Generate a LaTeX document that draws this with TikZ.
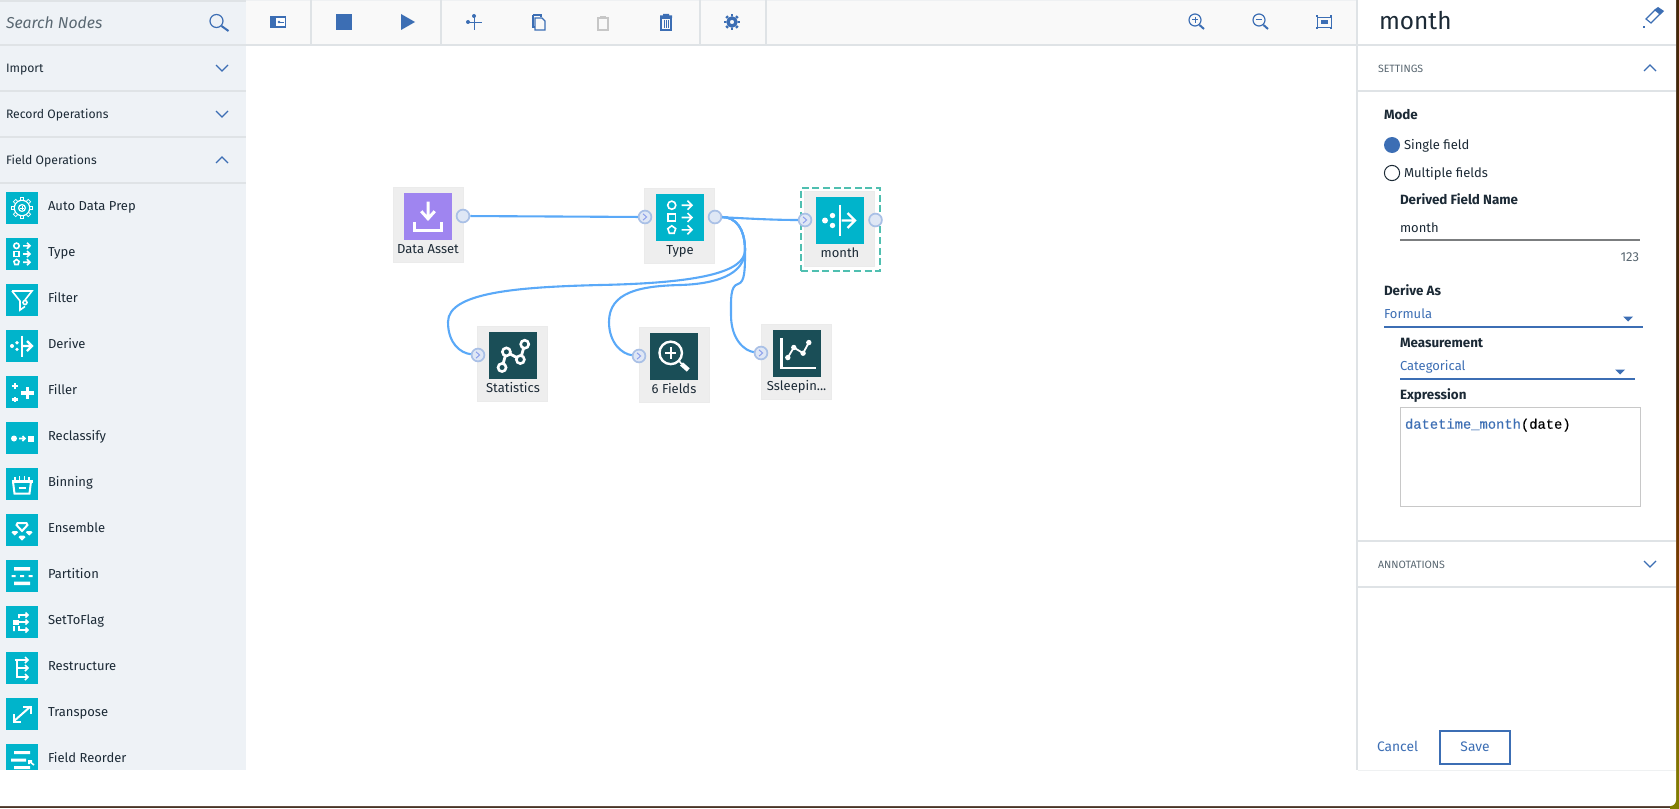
\documentclass[tikz,border=0pt]{standalone}
\usepackage{fontspec}
\setmainfont{Fira Sans}
\newfontfamily\codefont[FakeBold=0.25]{Liberation Mono}
\usetikzlibrary{shapes.geometric}
\definecolor{sidebg}{HTML}{EEF2F6}
\definecolor{rulec}{HTML}{DFE3E6}
\definecolor{toolbg}{HTML}{F9F9F9}
\definecolor{cyanic}{HTML}{00B4CB}
\definecolor{darkic}{HTML}{1A4E57}
\definecolor{purpic}{HTML}{9F85F0}
\definecolor{ibmblue}{HTML}{3C6EB4}
\definecolor{inktxt}{HTML}{1C2A36}
\definecolor{greytxt}{HTML}{5A6872}
\definecolor{boxgrey}{HTML}{EEEEEE}
\definecolor{linkc}{HTML}{5AA9F8}
\definecolor{portfill}{HTML}{DFE7F5}
\definecolor{portline}{HTML}{A9C0E6}
\definecolor{selc}{HTML}{4FBFB0}
\definecolor{codebox}{HTML}{C8C8C8}
\definecolor{photo}{HTML}{4A3426}
\def\icl{0.8}
\tikzset{
  x=0.5pt,y=-0.5pt,
  ic/.style={draw=white,line width=\icl pt,line cap=butt,line join=miter},
  icf/.style={fill=white,draw=none},
  txt/.style={inner sep=0pt,outer sep=0pt,text height=0.72em,text depth=0.2em,text=inktxt,font=\fontsize{6.5}{8}\selectfont},
  westt/.style={txt,anchor=west,yshift=0.25pt},
  heading/.style={westt,font=\fontsize{6.1}{8}\selectfont},
  boldt/.style={westt,font=\fontsize{6.7}{8}\fontseries{sb}\selectfont},
  capt/.style={westt,text=greytxt,font=\fontsize{5.3}{8}\selectfont},
  bluet/.style={westt,text=ibmblue},
  rulel/.style={draw=rulec,line width=1pt},
  chev/.style={draw=ibmblue,line width=0.6pt},
  tool/.style={draw=ibmblue,line width=0.6pt},
  port/.style={circle,draw=portline,fill=portfill,line width=0.85pt,minimum size=6.4pt,inner sep=0pt},
  link/.style={draw=linkc,line width=1.05pt},
  flowbox/.style={fill=boxgrey,draw=black!8,line width=0.3pt},
  pics/gearic/.style={code={
    \foreach \a in {0,45,...,315}{\draw[draw=white,line width=2.1pt] (\a:6) -- (\a:10.8);}
    \foreach \a in {0,45,...,315}{\draw[draw=cyanic,line width=1.1pt] (\a:6) -- (\a:10);}
    \draw[ic,fill=cyanic] (0,0) circle (7.5);
    \fill[cyanic] (0,0) circle (7);
    \draw[ic,line width=0.6pt] (0,0) circle (3.4);
    \draw[ic,line width=0.5pt] (-2,0)--(2,0) (0,-2)--(0,2);
  }},
  pics/typeic/.style={code={
    \draw[ic] (-5.5,-8.2) circle (2.7);
    \draw[ic] (-8,-2.5) rectangle (-3,2.5);
    \draw[ic] (-5.5,5.5)--(-2.9,7.4)--(-3.9,10.5)--(-7.1,10.5)--(-8.1,7.4)--cycle;
    \foreach \v in {-8.2,0,8.2}{\draw[ic] (1,\v)--(8,\v) (5,\v-3)--(8,\v)--(5,\v+3);}
  }},
  pics/filteric/.style={code={
    \draw[ic] (-10,-9)--(10,-9)--(3,0) (-10,-9)--(-2,1)--(-2,10)--(3,6.5);
    \draw[ic] (3,2.5) circle (2);
  }},
  pics/deriveic/.style={code={
    \fill[white] (-10,0) circle (2) (-5,-3.3) circle (1.8) (-5,3.3) circle (1.8);
    \draw[ic,line width=1.2pt] (0,-10.5)--(0,10.5);
    \draw[ic,line width=1.2pt] (1,0)--(10,0) (5,-5)--(10,0)--(5,5);
  }},
  pics/filleric/.style={code={
    \draw[ic,line width=1.6pt] (5.3,-5)--(5.3,7) (-1,1)--(11.5,1);
    \draw[ic,line width=1.1pt] (-7.3,-9)--(-7.3,-3) (-10.5,-6)--(-4,-6) (-7.3,5)--(-7.3,10) (-10.5,7.5)--(-4,7.5);
  }},
  pics/reclassic/.style={code={
    \fill[white] (-8,0.5) circle (3);
    \fill[white] (5.5,-2.5) rectangle (11.5,3.5);
    \draw[ic] (-3,0.5)--(3,0.5) (0.5,-2)--(3,0.5)--(0.5,3);
  }},
  pics/binic/.style={code={
    \draw[ic,line width=1.1pt] (-10.5,-2.5)--(10.5,-2.5);
    \draw[ic,line width=1pt] (-9,-2.5)--(-7.5,9.5)--(7.5,9.5)--(9,-2.5);
    \draw[ic] (-7,-7)--(-7,-3) (-2.5,-8)--(-2.5,-3) (2.5,-8)--(2.5,-3) (7,-7)--(7,-3);
    \draw[ic,line width=1pt] (-3.5,3.5)--(3.5,3.5);
  }},
  pics/ensembleic/.style={code={
    \draw[ic,line width=1pt] (-4.5,-7)--(4.5,-7)--(5.5,-5)--(0,1)--(-5.5,-5)--cycle;
    \fill[white] (-10.5,2.3)--(-9,1)--(-5,1)--(-3.8,2.3)--(-7.3,5.5)--cycle;
    \fill[white] (10.5,2.3)--(9,1)--(5,1)--(3.8,2.3)--(7.3,5.5)--cycle;
    \fill[white] (-3.5,7)--(-2,5.5)--(2,5.5)--(3.5,7)--(0,10.5)--cycle;
  }},
  pics/partic/.style={code={
    \fill[white] (-8,-9) rectangle (8,-5.5) (-8,5.5) rectangle (8,9);
    \fill[white] (-10.5,-1) rectangle (-6.5,1) (-2,-1) rectangle (2,1) (6.5,-1) rectangle (10.5,1);
  }},
  pics/flagic/.style={code={
    \draw[ic] (-3,-4)--(-3,-7)--(6,-7) (3.5,-9.5)--(6,-7)--(3.5,-4.5);
    \fill[white] (-9,-2) rectangle (-3,3);
    \draw[ic] (-3,0)--(6,0) (3.5,-2.5)--(6,0)--(3.5,2.5);
    \draw[ic] (-8,4)--(-8,9) (-3,4)--(-3,8)--(6,8) (3.5,5.5)--(6,8)--(3.5,10.5);
  }},
  pics/restrucic/.style={code={
    \draw[ic,line width=1pt] (-5,-9)--(-5,10);
    \draw[ic] (-7,-8)--(6,-8) (3,-11)--(6,-8)--(3,-5);
    \draw[ic] (-5,0)--(6,0) (3,-3)--(6,0)--(3,3);
    \draw[ic] (-5,9)--(6,9) (3,6)--(6,9)--(3,12);
  }},
  pics/transpic/.style={code={
    \draw[ic,line width=1pt] (-8.5,7.5)--(8.5,-7.5);
    \draw[ic,line width=1pt] (-8.5,0)--(-8.5,7.5)--(-1,7.5) (1,-7.5)--(8.5,-7.5)--(8.5,0);
  }},
  pics/reorderic/.style={code={
    \fill[white] (-8,-9) rectangle (8,-6) (-11,-1.5) rectangle (4,1.5) (-8,6) rectangle (8,9);
    \draw[ic] (7,1)--(12,5) (7,4)--(7,1)--(10,1);
  }},
  pics/downic/.style={code={
    \draw[ic,line width=1.5pt] (0,-10)--(0,1.5) (-4.5,-3.5)--(0,1.5)--(4.5,-3.5);
    \draw[ic,line width=1.5pt] (-9,3.5)--(-9,9.5)--(9,9.5)--(9,3.5);
  }},
  pics/static/.style={code={
    \draw[ic,line width=1.4pt] (-7.3,8)--(-4.4,-2.4)--(4.9,2.7)--(7.8,-7.5);
    \foreach \p in {(-7.3,8),(-4.4,-2.4),(4.9,2.7),(7.8,-7.5)}{\draw[ic,line width=1.3pt,fill=darkic] \p circle (2.7);}
  }},
  pics/fieldsic/.style={code={
    \draw[ic,line width=1.2pt] (-2.2,-2.4) circle (7.5);
    \draw[ic,line width=1pt] (-6,-2.4)--(1.6,-2.4) (-2.2,-6.2)--(-2.2,1.4);
    \draw[ic,line width=0.8pt] (3.5,3)--(5,5);
    \draw[ic,line width=2.2pt] (5,5)--(9.5,9);
  }},
  pics/chartic/.style={code={
    \draw[ic,line width=1.2pt] (-10,-10.4)--(-10,9.5)--(13,9.5);
    \draw[ic,line width=0.9pt] (-5.8,2.7)--(-1.8,-4)--(4.4,-0.2)--(8.2,-7.3);
    \fill[white] (-5.8,2.7) circle (1.8) (-1.8,-4) circle (1.8) (4.4,-0.2) circle (1.8) (8.2,-7.3) circle (1.8);
  }},
}
\newcommand{\sideitem}[4]{%
  \node[fill=cyanic,minimum width=16pt,minimum height=16pt,inner sep=0pt] (ic#1) at (22,#2) {};
  \pic at (22,#2) {#4};
  \node[westt] (lb#1) at (48,#2-2) {#3};
}
\newcommand{\flownode}[7]{% id x y colour pic label
  \node[flowbox,anchor=north west,minimum width=35.2pt,minimum height=37.5pt,inner sep=0pt] (box#1) at (#2,#3) {};
  \node[fill=#4,minimum width=24pt,minimum height=23.5pt,inner sep=0pt] (ico#1) at (#2+#7,#3+29.5) {};
  \pic[scale=1.5] at (#2+#7,#3+29.5) {#5};
  \node[txt,anchor=center,yshift=0.25pt] (lab#1) at (#2+#7,#3+62) {#6};
}
\begin{document}
\begin{tikzpicture}
\useasboundingbox (0,0) rectangle (1679,808);
% photo behind the window
\fill[photo] (0,0) rectangle (1679,808);
\shade[left color=black!85,right color=black!70!orange] (1670,0) rectangle (1679,400);
\shade[top color=black!70!orange,bottom color=yellow!50!black,middle color=orange!50!black] (1670,400) rectangle (1679,808);
\fill[white,rounded corners=3pt] (-10,-10) rectangle (1676,806);
% left panel
\fill[sidebg] (0,0) rectangle (246,770);
\fill[rulec] (0,0) rectangle (246,2);
\fill[toolbg] (246,0) rectangle (1356,44);
\fill[rulec!50] (246,0) rectangle (1356,1);
\foreach \v in {45,91,137,183}{\draw[rulel] (0,\v) -- (246,\v);}
\draw[rulel] (246,45) -- (1356,45);
\foreach \u in {311,441,700,766}{\draw[rulel] (\u,0) -- (\u,44);}
\node[westt,text=greytxt,font=\fontsize{7.9}{10}\itshape\selectfont] (searchlab) at (6,24) {Search Nodes};
\draw[tool] (216.5,21) circle (6.5);
\draw[tool,line width=1pt] (221.5,26) -- (228.5,31);
\node[heading] (h1) at (6,68) {Import};
\node[heading] (h2) at (6,114) {Record Operations};
\node[heading] (h3) at (6,160) {Field Operations};
\draw[chev] (216,65)--(222,71)--(228,65);
\draw[chev] (216,111)--(222,117)--(228,111);
\draw[chev] (216,163)--(222,157)--(228,163);
\sideitem{a}{208}{Auto Data Prep}{gearic}
\sideitem{b}{254}{Type}{typeic}
\sideitem{c}{300}{Filter}{filteric}
\sideitem{d}{346}{Derive}{deriveic}
\sideitem{e}{392}{Filler}{filleric}
\sideitem{f}{438}{Reclassify}{reclassic}
\sideitem{g}{484}{Binning}{binic}
\sideitem{h}{530}{Ensemble}{ensembleic}
\sideitem{i}{576}{Partition}{partic}
\sideitem{j}{622}{SetToFlag}{flagic}
\sideitem{k}{668}{Restructure}{restrucic}
\sideitem{l}{714}{Transpose}{transpic}
\sideitem{m}{760}{Field Reorder}{reorderic}
\fill[white] (0,770) rectangle (260,800);
% toolbar icons
\draw[tool,fill=white] (270.5,17) rectangle (285.5,27);
\fill[ibmblue] (270,17) rectangle (276,27);
\fill[ibmblue] (279,22) circle (1.3);
\draw[tool,line width=0.4pt] (279,22)--(284,22);
\fill[ibmblue] (336,14) rectangle (352,30);
\fill[ibmblue] (401,14)--(415,22)--(401,30)--cycle;
\draw[tool,line width=0.45pt] (474,16)--(474,30) (468,22)--(482,22);
\fill[ibmblue] (474,16) circle (2) (468,22) circle (2);
\draw[tool] (533,15)--(541,15)--(541,17) (533,15)--(533,27)--(535,27);
\draw[tool,fill=toolbg] (535,18)--(542,18)--(545,21)--(545,30)--(535,30)--cycle;
\draw[draw=black!22,line width=0.6pt] (598,18) rectangle (608,30);
\fill[black!22] (600,16) rectangle (606,18.5);
\draw[tool] (661,18) rectangle (671,30);
\fill[ibmblue] (660,15.5) rectangle (672,18) (663,14) rectangle (669,15.5);
\draw[tool,line width=0.3pt] (664,20)--(664,28) (666,20)--(666,28) (668,20)--(668,28);
\foreach \a in {0,45,...,315}{\draw[tool,line width=1.3pt] ([shift={(732,22)}]\a:6) -- ([shift={(732,22)}]\a:8);}
\draw[ibmblue,line width=1.7pt] (732,22) circle (4);
\draw[tool] (1195,20) circle (6);
\draw[tool,line width=0.5pt] (1192,20)--(1198,20) (1195,17)--(1195,23);
\draw[tool,line width=1pt] (1199.5,25)--(1204,29);
\draw[tool] (1259,20) circle (6);
\draw[tool,line width=0.5pt] (1256,20)--(1262,20);
\draw[tool,line width=1pt] (1263.5,25)--(1268,29);
\draw[tool,line width=0.4pt] (1317,17) rectangle (1331,27);
\fill[ibmblue] (1320.5,20.5) rectangle (1327.5,24);
\foreach \cx/\cy in {1317/16,1331/16,1317/28,1331/28}{\fill[ibmblue] (\cx-1,\cy-1) rectangle (\cx+1,\cy+1);}
% right panel
\fill[white] (1356,0) rectangle (1676,770);
\fill[rulec] (1356,0) rectangle (1358,770);
\foreach \v in {45,91,541,587}{\draw[rulel] (1358,\v) -- (1676,\v);}
\node[westt,font=\fontsize{12.2}{15}\selectfont] (ttl) at (1379,25) {month};
\draw[tool] (1646,19)--(1655,10)--(1660,14)--(1651,23)--cycle;
\fill[ibmblue] (1654.5,9.5)--(1658,7)--(1664,11)--(1660.5,14.5)--cycle;
\fill[ibmblue] (1643,26) rectangle (1645,28);
\node[capt] (set) at (1378,68) {SETTINGS};
\draw[chev] (1644,71)--(1650,65)--(1656,71);
\node[boldt] (mode) at (1384,115) {Mode};
\node[circle,fill=ibmblue,minimum size=8pt,inner sep=0pt] (r1) at (1392,145) {};
\node[westt] (r1t) at (1404,145) {Single field};
\node[circle,draw=inktxt,fill=white,line width=0.5pt,minimum size=7.6pt,inner sep=0pt] (r2) at (1392,173) {};
\node[westt] (r2t) at (1404,173) {Multiple fields};
\node[boldt] (dfn) at (1400,200) {Derived Field Name};
\node[westt] (mval) at (1400,228) {month};
\draw[draw=black!45!rulec,line width=0.7pt] (1400,240) -- (1640,240);
\node[txt,anchor=east,text=greytxt,yshift=0.25pt] (cnt) at (1639,257) {123};
\node[boldt] (dat) at (1384,291) {Derive As};
\node[bluet] (fml) at (1384,314) {Formula};
\draw[draw=ibmblue,line width=0.7pt] (1384,327) -- (1643,327);
\fill[ibmblue] (1623,316.5)--(1633,316.5)--(1628,321.5)--cycle;
\node[boldt] (meas) at (1400,343) {Measurement};
\node[bluet] (cat) at (1400,366) {Categorical};
\draw[draw=ibmblue,line width=0.7pt] (1400,379) -- (1635,379);
\fill[ibmblue] (1615,369.5)--(1625,369.5)--(1620,374.5)--cycle;
\node[boldt] (expr) at (1400,395) {Expression};
\draw[draw=codebox,line width=0.5pt] (1400,407.5) rectangle (1640,506);
\node[westt,font=\fontsize{6.9}{8}\codefont\selectfont,text=black] (code) at (1405,424) {\textcolor{ibmblue}{datetime\_month}(date)};
\node[capt] (ann) at (1378,564) {ANNOTATIONS};
\draw[chev] (1644,561)--(1650,567)--(1656,561);
\node[bluet,font=\fontsize{6.9}{8}\selectfont] (cancel) at (1377,747) {Cancel};
\node[draw=ibmblue,line width=1pt,minimum width=35pt,minimum height=16.5pt,inner sep=0pt,text=ibmblue,font=\fontsize{6.9}{8}\selectfont] (save) at (1475,747) {Save};
\draw[draw=rulec!50,line width=0.5pt] (1358,770) -- (1676,770);
% flow nodes
\flownode{data}{393}{187}{purpic}{downic}{Data Asset}{35}
\flownode{type}{644}{188}{cyanic}{typeic}{Type}{36}
\flownode{month}{804}{191}{cyanic}{deriveic}{month}{36}
\flownode{stat}{477}{326}{darkic}{static}{Statistics}{36}
\flownode{fields}{639}{327}{darkic}{fieldsic}{6 Fields}{35}
\flownode{sleep}{761}{324}{darkic}{chartic}{Ssleepin...}{35.5}
\node[draw=selc,dash pattern=on 3.5pt off 1.8pt,line width=0.9pt,minimum width=39.5pt,minimum height=41.5pt,inner sep=0pt,anchor=north west] (sel) at (800,187) {};
% ports
\node[port] (pdo) at (463,216) {};
\node[port] (pti) at (645,217) {};
\node[port] (pto) at (715,217) {};
\node[port] (pmi) at (805,220) {};
\node[port] (pmo) at (875.5,220) {};
\node[port] (psi) at (478,355) {};
\node[port] (pfi) at (639,356) {};
\node[port] (pli) at (761,353) {};
\foreach \p in {pti,pmi,psi,pfi,pli}{\draw[draw=portline!80!blue,line width=0.45pt] ([xshift=-1pt,yshift=1.6pt]\p.center) -- ([xshift=0.8pt]\p.center) -- ([xshift=-1pt,yshift=-1.6pt]\p.center);}
% connectors
\draw[link] (pdo) -- (pti);
\draw[link] (pto) .. controls (740,218) and (770,220) .. (pmi);
\draw[link] (pto) .. controls (735,217) and (745,228) .. (745,250) .. controls (745,272) and (700,283) .. (600,285) .. controls (520,287) and (448,292) .. (448,322) .. controls (448,343) and (460,353) .. (psi);
\draw[link] (pto) .. controls (735,217) and (745,228) .. (745,250) .. controls (745,275) and (715,284) .. (680,285) .. controls (640,286) and (609,292) .. (609,322) .. controls (609,343) and (622,354) .. (pfi);
\draw[link] (pto) .. controls (735,217) and (745,228) .. (745,250) .. controls (745,270) and (745,282) .. (738,284) .. controls (730,286) and (731,300) .. (731,315) .. controls (731,340) and (745,351) .. (pli);
\end{tikzpicture}
\end{document}
